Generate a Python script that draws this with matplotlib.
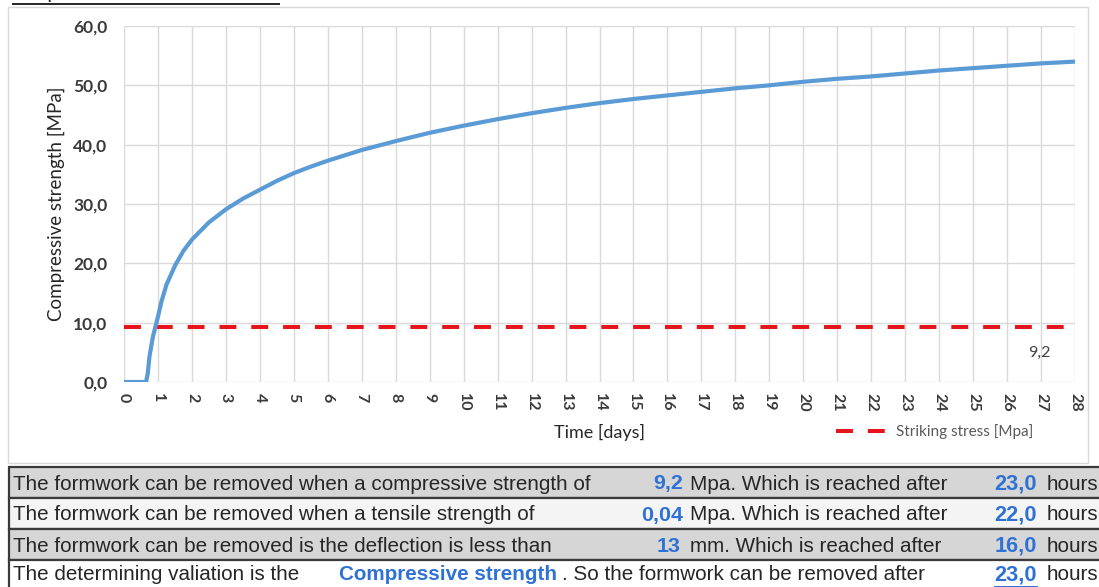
import matplotlib
matplotlib.use("Agg")
import matplotlib.pyplot as plt
from matplotlib.patches import Rectangle
from matplotlib.lines import Line2D
from matplotlib.ticker import FuncFormatter

# ---------------- data ----------------
days = [0, 0.65, 0.7, 0.75, 0.85, 0.92, 1.0, 1.1, 1.25, 1.5, 1.75, 2.0, 2.5, 3.0, 3.5,
        4, 4.5, 5, 5.5, 6, 7, 8, 9, 10, 11, 12, 13, 14, 15, 16, 17, 18, 19, 20, 21, 22, 23,
        24, 25, 26, 27, 28]
strength = [0, 0, 1.5, 4.3, 7.6, 9.2, 11.0, 13.5, 16.4, 19.6, 22.1, 24.0, 26.9, 29.1, 30.9,
            32.4, 33.9, 35.2, 36.3, 37.3, 39.1, 40.6, 42.0, 43.2, 44.3, 45.3, 46.2, 47.0,
            47.7, 48.3, 48.9, 49.5, 50.0, 50.6, 51.1, 51.5, 52.0, 52.5, 52.9, 53.3, 53.7,
            54.0]
striking_stress = 9.2
x_ticks = list(range(0, 29))
y_ticks = [0, 10, 20, 30, 40, 50, 60]

title_text = "Output of the execution time"
row_left = ["The formwork can be removed when a compressive strength of",
            "The formwork can be removed when a tensile strength of",
            "The formwork can be removed is the deflection is less than",
            "The determining valiation is the"]
row_value = ["9,2", "0,04", "13", None]
row_mid = ["Mpa. Which is reached after", "Mpa. Which is reached after",
           "mm. Which is reached after", ". So the formwork can be removed after"]
row_hours = ["23,0", "22,0", "16,0", "23,0"]
determining = "Compressive strength"
hours_word = "hours"

# ---------------- figure ----------------
W, H = 1099, 587
fig = plt.figure(figsize=(W / 100, H / 100), dpi=100)
fig.patch.set_facecolor("white")

def fx(px):
    return px / W

def fy(py):
    return 1 - py / H

# chart frame
fig.patches.append(Rectangle((fx(8), fy(463)), fx(1088) - fx(8), fy(7) - fy(463),
                             transform=fig.transFigure, fill=False,
                             edgecolor="#D9D9D9", lw=1.0))

ax = fig.add_axes([fx(124), fy(382), fx(1075) - fx(124), fy(26) - fy(382)])
chart_font = "Lato"
ax.set_xlim(0, 28)
ax.set_ylim(0, 60)
ax.set_xticks(x_ticks)
ax.set_yticks(y_ticks)
ax.yaxis.set_major_formatter(FuncFormatter(lambda v, p: f"{v:.1f}".replace(".", ",")))
for s in ax.spines.values():
    s.set_visible(False)
ax.grid(True, color="#D9D9D9", lw=1.0)
ax.set_axisbelow(True)
ax.tick_params(axis="both", length=0)
ax.tick_params(axis="y", pad=12, labelsize=12.5, labelcolor="#3A3A3A")
ax.tick_params(axis="x", pad=8, labelsize=11.5, labelcolor="#3A3A3A", labelrotation=270)
for lab in ax.get_yticklabels() + ax.get_xticklabels():
    lab.set_fontfamily(chart_font)
    lab.set_fontweight("bold")

ax.plot(days, strength, color="#5B9BD5", lw=3.0, solid_capstyle="round", zorder=3)
red, = ax.plot([0, 28], [striking_stress, striking_stress], color="#E8141B", lw=2.9,
               dashes=(4.2, 3.7), zorder=2, label="Striking stress [Mpa]")
ax.text(26.95, striking_stress - 4.3, f"{striking_stress:.1f}".replace(".", ","),
        ha="center", va="center", fontsize=11.5, color="#404040", family=chart_font)

ax.set_ylabel("Compressive strength [MPa]", fontsize=13.5, color="#262626",
              family=chart_font)
ax.yaxis.set_label_coords(-0.062, 0.5)
ax.set_xlabel("Time [days]", fontsize=13, color="#262626", family=chart_font)
ax.xaxis.set_label_coords(0.5, -0.118)

leg = fig.legend(handles=[red], loc="center left",
                 bbox_to_anchor=(fx(836), fy(432)), frameon=False,
                 handlelength=3.2, handletextpad=0.7, borderpad=0, borderaxespad=0,
                 prop={"family": chart_font, "size": 11})
for t in leg.get_texts():
    t.set_color("#595959")

# title (cut off at the top, as in the source)
tt = fig.text(fx(13), fy(-1.5), title_text, ha="left", va="baseline",
              fontsize=15.3, family="Liberation Sans", color="#262626")

# ---------------- table ----------------
tfont = "Liberation Sans"
tsize = 14.9
blue = "#2F72D6"
dark = "#262626"
row_edges = [467, 497.5, 528.5, 559.5, 592]
row_centers = [484, 515, 546, 575]
row_colors = ["#D6D6D6", "#F4F4F4", "#D6D6D6", "#FFFFFF"]
for i in range(4):
    y0, y1 = row_edges[i], row_edges[i + 1]
    fig.patches.append(Rectangle((fx(9), fy(y1)), fx(1110) - fx(9), fy(y0) - fy(y1),
                                 transform=fig.transFigure, facecolor=row_colors[i],
                                 edgecolor="#3A3A3A", lw=1.6))

texts_to_underline = []
for i in range(4):
    yc = fy(row_centers[i])
    fig.text(fx(13), yc, row_left[i], ha="left", va="center", fontsize=tsize,
             family=tfont, color=dark)
    if row_value[i] is not None:
        fig.text(fx(683 if i < 2 else 680), yc, row_value[i], ha="right", va="center",
                 fontsize=tsize + 0.5, family=tfont, color=blue, fontweight="bold")
        fig.text(fx(690), yc, row_mid[i], ha="left", va="center", fontsize=tsize,
                 family=tfont, color=dark)
    else:
        fig.text(fx(339), yc, determining, ha="left", va="center", fontsize=tsize,
                 family=tfont, color=blue, fontweight="bold")
        fig.text(fx(562), yc, row_mid[i], ha="left", va="center", fontsize=tsize,
                 family=tfont, color=dark)
    ht = fig.text(fx(1037), yc, row_hours[i], ha="right", va="center",
                  fontsize=tsize + 0.8, family=tfont, color=blue, fontweight="bold")
    if i == 3:
        texts_to_underline.append((ht, blue))
    fig.text(fx(1047), yc, hours_word, ha="left", va="center", fontsize=tsize,
             family=tfont, color=dark)

texts_to_underline.append((tt, "#262626"))
fig.canvas.draw()
r = fig.canvas.get_renderer()
for t, c in texts_to_underline:
    bb = t.get_window_extent(r)
    yline = bb.y0 + 0.5 if t is not tt else bb.y0 + 1.0
    fig.add_artist(Line2D([bb.x0 / W, bb.x1 / W], [yline / H - 2.0 / H, yline / H - 2.0 / H],
                          transform=fig.transFigure, color=c, lw=1.4))

fig.savefig("out.png", dpi=100)
